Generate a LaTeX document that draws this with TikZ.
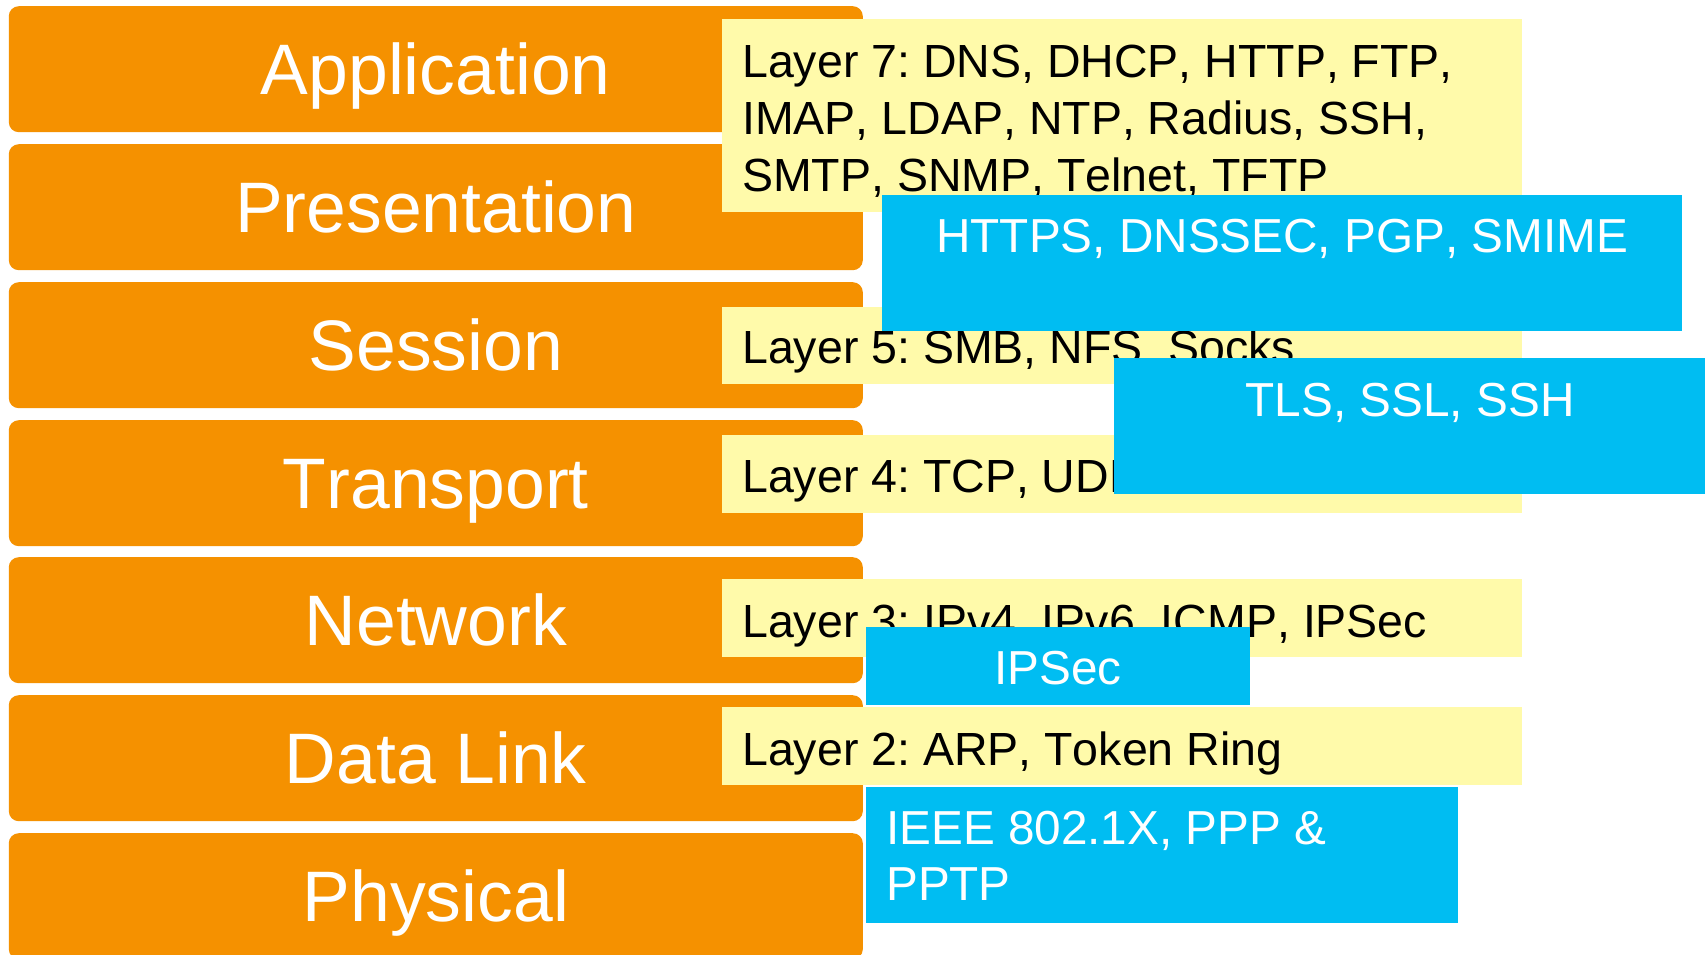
\documentclass[tikz,border=0pt]{standalone}
\usepackage{fontspec}
\setmainfont[Kerning=Off]{Liberation Sans}
\definecolor{osiorange}{RGB}{245,145,0}
\definecolor{protoyellow}{RGB}{255,250,170}
\definecolor{secblue}{RGB}{0,189,242}
\frenchspacing
\begin{document}
\begin{tikzpicture}[x=1pt,y=1pt,
  layerbox/.style={fill=osiorange, draw=none, rounded corners=10pt, anchor=north west,
    minimum width=854pt, minimum height=126pt, inner sep=0pt,
    text=white, font=\fontsize{71.5}{85}\selectfont, text height=51pt, text depth=0pt},
  protobox/.style={fill=protoyellow, draw=none, anchor=north west, inner sep=0pt,
    minimum width=800pt},
  secbox/.style={fill=secblue, draw=none, anchor=north west, inner sep=0pt},
  ptext/.style={anchor=base west, inner sep=0pt, text=black, font=\fontsize{46.5}{57}\selectfont},
  stext/.style={anchor=base, inner sep=0pt, text=white, font=\fontsize{47.7}{57}\selectfont},
  sltext/.style={anchor=base west, inner sep=0pt, text=white, font=\fontsize{47.7}{56}\selectfont}]
\useasboundingbox (0,0) rectangle (1705,-954);
\fill[white] (0,0) rectangle (1705,-954);
% OSI layers
\node[layerbox] (app) at (8.6,-6) {Application};
\node[layerbox] (pres) at (8.6,-144) {Presentation};
\node[layerbox] (sess) at (8.6,-282) {Session};
\node[layerbox] (trans) at (8.6,-420) {Transport};
\node[layerbox] (net) at (8.6,-557) {Network};
\node[layerbox] (dl) at (8.6,-695) {Data Link};
\node[layerbox] (phys) at (8.6,-833) {Physical};
% protocol boxes
\node[protobox, minimum height=193pt] (l7) at (722,-19) {};
\node[ptext] (l7t) at ([xshift=20pt,yshift=-58pt]l7.north west)
  {\parbox[t]{780pt}{Layer 7: DNS, DHCP, HTTP, FTP,\\IMAP, LDAP, NTP, Radius, SSH,\\SMTP, SNMP, Telnet, TFTP}};
\node[protobox, minimum height=77pt] (l5) at (722,-307) {};
\node[ptext] (l5t) at ([xshift=20pt,yshift=-56pt]l5.north west) {Layer 5: SMB, NFS, Socks};
\node[protobox, minimum height=78pt] (l4) at (722,-435) {};
\node[ptext] (l4t) at ([xshift=20pt,yshift=-57pt]l4.north west) {Layer 4: TCP, UDP};
\node[protobox, minimum height=78pt] (l3) at (722,-579) {};
\node[ptext] (l3t) at ([xshift=20pt,yshift=-58pt]l3.north west) {Layer 3: IPv4, IPv6, ICMP, IPSec};
\node[protobox, minimum height=78pt] (l2) at (722,-707) {};
\node[ptext] (l2t) at ([xshift=20pt,yshift=-58pt]l2.north west) {Layer 2: ARP, Token Ring};
% security boxes
\node[secbox, minimum width=800pt, minimum height=136pt] (s7) at (882,-195) {};
\node[stext] (s7t) at ([yshift=-57pt]s7.north) {HTTPS, DNSSEC, PGP, SMIME};
\node[secbox, minimum width=592pt, minimum height=136pt] (s5) at (1114,-358) {};
\node[stext] (s5t) at ([yshift=-58pt]s5.north) {TLS, SSL, SSH};
\node[secbox, minimum width=384pt, minimum height=78pt] (s3) at (866,-627) {};
\node[stext] (s3t) at ([yshift=-57pt]s3.north) {IPSec};
\node[secbox, minimum width=592pt, minimum height=136pt] (s2) at (866,-787) {};
\node[sltext] (s2t) at ([xshift=20pt,yshift=-57pt]s2.north west)
  {\parbox[t]{560pt}{IEEE 802.1X, PPP \&\\PPTP}};
\end{tikzpicture}
\end{document}
